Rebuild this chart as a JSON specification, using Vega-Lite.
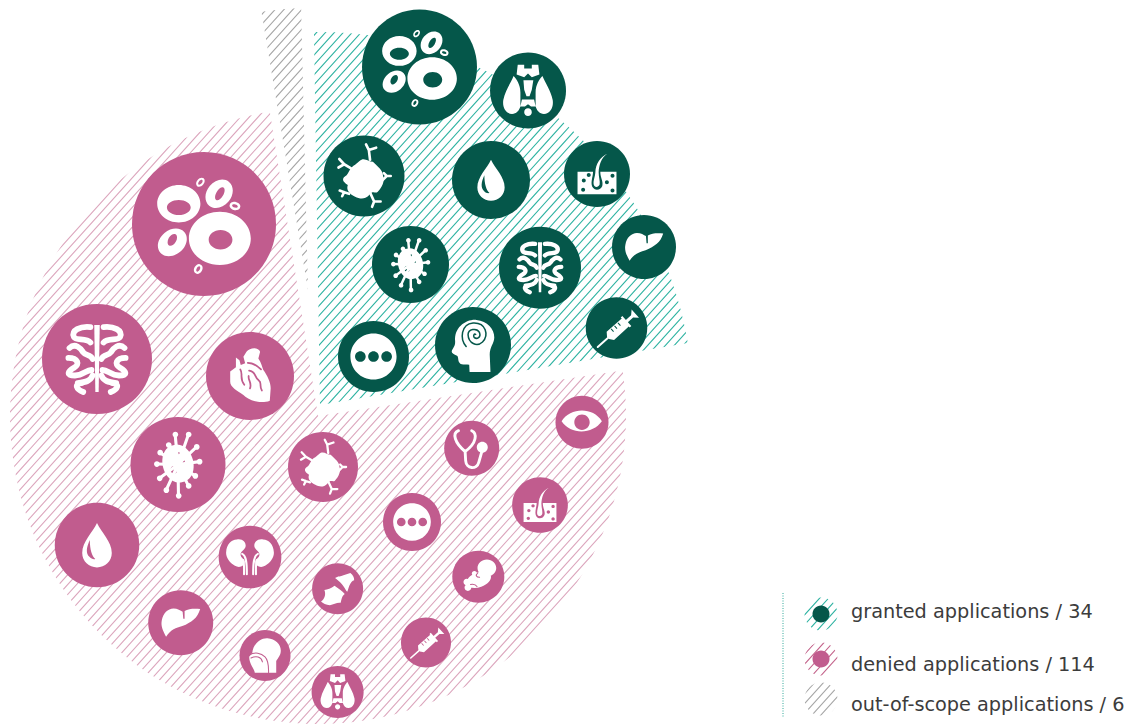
{"$schema":"https://vega.github.io/schema/vega-lite/v6.json","width":1135,"height":725,"autosize":"none","padding":0,"background":"white","config":{"view":{"stroke":null},"legend":{"disable":true}},
"datasets":{
"wedges":[{"group":"granted","x":320,"y":405,"start":-0.93,"end":80.44,"r":373},{"group":"denied","x":318,"y":416,"start":81.5,"end":351,"r":308},{"group":"out-of-scope","x":308,"y":290,"start":-9.5,"end":-1.4,"r":282}],
"keys":[{"group":"granted","x":821,"y":614,"d":33},{"group":"denied","x":821,"y":659,"d":33},{"group":"out-of-scope","x":821,"y":699,"d":33}],
"keydots":[{"group":"granted","x":821,"y":614,"d":17},{"group":"denied","x":821,"y":659,"d":17}],
"labels":[{"label":"granted applications / 34","x":851,"y":618},{"label":"denied applications / 114","x":851,"y":671},{"label":"out-of-scope applications / 6","x":851,"y":711}],
"hatch":[{"x":74,"y":-82,"x2":1069,"y2":815}],
"divider":[{"x":783,"y":593,"y2":717}],
"bubbles":[
{"group":"granted","icon":"blood","x":419.5,"y":67,"d":115},{"group":"granted","icon":"thyroid","x":528,"y":90.5,"d":76},{"group":"granted","icon":"antibody","x":364,"y":176,"d":81},{"group":"granted","icon":"drop","x":491,"y":180,"d":78},{"group":"granted","icon":"skin","x":597,"y":174,"d":66},{"group":"granted","icon":"liver","x":644,"y":247,"d":64},{"group":"granted","icon":"virus","x":410.5,"y":264.5,"d":77},{"group":"granted","icon":"brain","x":540,"y":267.7,"d":82},{"group":"granted","icon":"syringe","x":616.5,"y":328,"d":61.5},{"group":"granted","icon":"head","x":473,"y":345,"d":76},{"group":"granted","icon":"dots","x":373.5,"y":356.5,"d":71},
{"group":"denied","icon":"blood","x":204,"y":224,"d":144},{"group":"denied","icon":"brain","x":97,"y":359,"d":110},{"group":"denied","icon":"heart","x":250,"y":376,"d":88},{"group":"denied","icon":"virus","x":178,"y":464.5,"d":95},{"group":"denied","icon":"antibody","x":323,"y":467,"d":70},{"group":"denied","icon":"drop","x":97,"y":545,"d":84.5},{"group":"denied","icon":"kidney","x":250,"y":557,"d":62.7},{"group":"denied","icon":"joint","x":337.6,"y":588.8,"d":51},{"group":"denied","icon":"liver","x":180.7,"y":622.7,"d":65},{"group":"denied","icon":"throat","x":265,"y":655.5,"d":51},{"group":"denied","icon":"thyroid","x":337.6,"y":692,"d":52},{"group":"denied","icon":"stethoscope","x":471.7,"y":448.3,"d":55},{"group":"denied","icon":"eye","x":582,"y":422.3,"d":53},{"group":"denied","icon":"skin","x":540,"y":505,"d":55.7},{"group":"denied","icon":"dots","x":412,"y":522,"d":58},{"group":"denied","icon":"baby","x":478.3,"y":576.7,"d":52},{"group":"denied","icon":"syringe","x":426,"y":642.5,"d":50}
]},
"encoding":{"x":{"field":"x","type":"quantitative","axis":null,"scale":{"domain":[0,1135],"range":[0,1135]}},"y":{"field":"y","type":"quantitative","axis":null,"scale":{"domain":[0,725],"range":[0,725]}}},
"layer":[
{"data":{"name":"wedges"},"mark":{"type":"arc"},"encoding":{"theta":{"field":"start","type":"quantitative","scale":{"domain":[0,360],"range":[0,6.283185]}},"theta2":{"field":"end"},"radius":{"field":"r","type":"quantitative","scale":{"type":"linear","domain":[0,400],"range":[0,400]}},"fill":{"field":"group","type":"nominal","scale":{"domain":["granted","denied","out-of-scope"],"range":["#2fb3a2","#dca6bd","#a6a6a6"]}}}},
{"data":{"name":"keys"},"mark":{"type":"point","filled":true,"opacity":1,"shape":"M-1 0A1 1 0 1 1 1 0A1 1 0 1 1 -1 0Z"},"encoding":{"size":{"field":"d","type":"quantitative","scale":{"type":"pow","exponent":2,"domain":[0,200],"range":[0,40000]}},"fill":{"field":"group","type":"nominal","scale":{"domain":["granted","denied","out-of-scope"],"range":["#2fb3a2","#c4658c","#a6a6a6"]}}}},
{"data":{"name":"hatch"},"mark":{"type":"rule","stroke":"white","strokeWidth":1400,"strokeDash":[5.5,1.1]},"encoding":{"x2":{"field":"x2"},"y2":{"field":"y2"}}},
{"data":{"name":"bubbles"},"mark":{"type":"point","filled":true,"opacity":1,"shape":"M-1 0A1 1 0 1 1 1 0A1 1 0 1 1 -1 0Z"},"encoding":{"size":{"field":"d","type":"quantitative","scale":{"type":"pow","exponent":2,"domain":[0,200],"range":[0,40000]}},"fill":{"field":"group","type":"nominal","scale":{"domain":["granted","denied"],"range":["#05574a","#c15c8e"]}}}},
{"data":{"name":"keydots"},"mark":{"type":"point","filled":true,"opacity":1,"shape":"M-1 0A1 1 0 1 1 1 0A1 1 0 1 1 -1 0Z"},"encoding":{"size":{"field":"d","type":"quantitative","scale":{"type":"pow","exponent":2,"domain":[0,200],"range":[0,40000]}},"fill":{"field":"group","type":"nominal","scale":{"domain":["granted","denied"],"range":["#05574a","#c15c8e"]}}}},
{"data":{"name":"bubbles"},"mark":{"type":"point","filled":true,"opacity":1,"fill":"white"},"encoding":{"size":{"field":"d","type":"quantitative","scale":{"type":"pow","exponent":2,"domain":[0,200],"range":[0,40000]}},"shape":{"field":"icon","type":"nominal","scale":{"domain":["blood","drop","virus","brain","heart","antibody","dots","liver","kidney","joint","throat","thyroid","syringe","head","skin","eye","stethoscope","baby"],"range":[
"M-.21 .2A.43 .37 0 1 1 .65 .2A.43 .37 0 1 1 -.21 .2ZM.065 .22A.165 .135 0 1 0 .395 .22A.165 .135 0 1 0 .065 .22ZM-.65 -.28A.3 .26 0 1 1 -.05 -.28A.3 .26 0 1 1 -.65 -.28ZM-.515 -.23A.165 .105 0 1 0 -.185 -.23A.165 .105 0 1 0 -.515 -.23ZM.072 -.255A.215 .17 -50 1 1 .348 -.585A.215 .17 -50 1 1 .072 -.255ZM.17 -.333A.1 .05 -60 1 0 .27 -.507A.1 .05 -60 1 0 .17 -.333ZM-.609 .396A.22 .17 -40 1 1 -.271 .114A.22 .17 -40 1 1 -.609 .396ZM-.485 .298A.09 .055 -60 1 0 -.395 .142A.09 .055 -60 1 0 -.485 .298ZM-.095 -.526A.07 .05 -50 1 1 -.005 -.634A.07 .05 -50 1 1 -.095 -.526ZM-.076 -.549A.04 .022 -50 1 0 -.024 -.611A.04 .022 -50 1 0 -.076 -.549ZM.358 -.269A.075 .05 15 1 1 .502 -.231A.075 .05 15 1 1 .358 -.269ZM.391 -.26A.04 .022 15 1 0 .469 -.24A.04 .022 15 1 0 .391 -.26ZM-.115 .685A.07 .05 -60 1 1 -.045 .565A.07 .05 -60 1 1 -.115 .685ZM-.1 .66A.04 .022 -60 1 0 -.06 .59A.04 .022 -60 1 0 -.1 .66Z",
"M0 -.52C.1 -.3 .35 -.08 .35 .19C.35 .39 .19 .53 0 .53C-.19 .53 -.35 .39 -.35 .19C-.35 -.08 -.1 -.3 0 -.52ZM-.17 -.12C-.25 .05 -.27 .2 -.18 .28C-.14 .33 -.07 .35 -.04 .33C-.12 .27 -.17 .1 -.17 -.12Z",
"M-.1 -.406A.4 .3 75 1 1 .1 .366A.4 .3 75 1 1 -.1 -.406ZM-.16 .11a.08 .08 0 1 0 .16 0a.08 .08 0 1 0 -.16 0ZM.055 -.06a.045 .045 0 1 0 .09 0a.045 .045 0 1 0 -.09 0ZM-.015 -.24a.025 .025 0 1 0 .05 0a.025 .025 0 1 0 -.05 0ZM-.115 -.63a.06 .06 0 1 1 .12 0a.06 .06 0 1 1 -.12 0ZM.165 -.63a.06 .06 0 1 1 .12 0a.06 .06 0 1 1 -.12 0ZM.335 -.37a.06 .06 0 1 1 .12 0a.06 .06 0 1 1 -.12 0ZM.395 -.06a.06 .06 0 1 1 .12 0a.06 .06 0 1 1 -.12 0ZM.305 .24a.06 .06 0 1 1 .12 0a.06 .06 0 1 1 -.12 0ZM.165 .45a.06 .06 0 1 1 .12 0a.06 .06 0 1 1 -.12 0ZM-.045 .66a.06 .06 0 1 1 .12 0a.06 .06 0 1 1 -.12 0ZM-.305 .54a.06 .06 0 1 1 .12 0a.06 .06 0 1 1 -.12 0ZM-.445 .29a.06 .06 0 1 1 .12 0a.06 .06 0 1 1 -.12 0ZM-.505 -.01a.06 .06 0 1 1 .12 0a.06 .06 0 1 1 -.12 0ZM-.435 -.25a.06 .06 0 1 1 .12 0a.06 .06 0 1 1 -.12 0ZM-.255 -.41a.06 .06 0 1 1 .12 0a.06 .06 0 1 1 -.12 0Z",
"M-.05 -.62L.05 -.62L.03 .6L-.03 .6Z",
"M-.08 -.55C0 -.66 .2 -.66 .23 -.55L.19 -.4C.26 -.3 .28 -.2 .3 -.14C.4 0 .47 .15 .47 .28L.45 .56C.35 .6 .25 .6 .15 .58C0 .55 -.1 .48 -.15 .43C-.3 .33 -.45 .25 -.45 .13L-.45 -.1L-.32 -.2L-.32 -.42L-.24 -.36L-.21 -.25L-.11 -.29L-.15 -.44Z",
"M-.11 -.37C0 -.48 .11 -.35 .22 -.35C.34 -.23 .47 -.14 .47 0C.52 .11 .45 .28 .34 .39C.28 .45 .22 .34 .13 .47C0 .6 -.11 .56 -.22 .51C-.34 .45 -.45 .36 -.4 .22C-.54 .13 -.56 .06 -.43 -.02C-.36 -.11 -.34 -.22 -.22 -.28Z",
"M-.65 0A.65 .65 0 1 1 .65 0A.65 .65 0 1 1 -.65 0ZM-.52 0a.15 .15 0 1 0 .3 0a.15 .15 0 1 0 -.3 0ZM-.15 0a.15 .15 0 1 0 .3 0a.15 .15 0 1 0 -.3 0ZM.22 0a.15 .15 0 1 0 .3 0a.15 .15 0 1 0 -.3 0Z",
"M-.45 .43C-.55 .25 -.62 .1 -.58 -.08C-.54 -.3 -.4 -.43 -.22 -.44C-.1 -.44 0 -.38 .06 -.34L.08 -.12L.12 -.12L.12 -.36C.25 -.44 .45 -.44 .6 -.42C.55 -.28 .5 -.17 .4 -.1C.3 -.02 .2 .05 .05 .1C-.15 .16 -.3 .2 -.45 .43Z",
"M-.42 -.56C-.2 -.6 -.1 -.42 -.15 -.3C-.2 -.2 -.3 -.18 -.3 -.08C-.3 .04 -.18 .05 -.17 .15C-.16 .3 -.35 .36 -.48 .28C-.66 .18 -.78 0 -.76 -.16C-.75 -.4 -.6 -.55 -.42 -.56ZM.42 -.56C.6 -.55 .75 -.4 .76 -.16C.78 0 .66 .18 .48 .28C.35 .36 .16 .3 .17 .15C.18 .05 .3 .04 .3 -.08C.3 -.18 .2 -.2 .15 -.3C.1 -.42 .2 -.6 .42 -.56Z",
"M-.1 -.42C0 -.5 .15 -.48 .2 -.52C.3 -.55 .4 -.58 .5 -.62C.6 -.55 .65 -.45 .65 -.34C.5 -.3 .45 -.1 .38 .12C.3 .05 .22 -.2 -.1 -.42ZM-.52 .05C-.4 .02 -.25 0 -.12 -.12C.05 0 .2 .1 .28 .2C.15 .3 .15 .45 .12 .55C0 .52 -.15 .6 -.3 .65C-.45 .62 -.58 .58 -.65 .5C-.5 .4 -.45 .2 -.52 .05Z",
"M-.5 -.1C-.45 -.5 -.15 -.7 .1 -.68C.4 -.66 .62 -.45 .62 -.2C.62 0 .5 .1 .44 .22L.44 .68L-.4 .68C-.42 .5 -.62 .35 -.62 .05Z",
"M-.38 -.38C-.3 -.3 -.2 -.15 -.2 .05L-.2 .42C-.25 .55 -.3 .6 -.42 .62C-.58 .6 -.68 .45 -.65 .25C-.6 0 -.45 -.2 -.38 -.38ZM.38 -.38C.45 -.2 .6 0 .65 .25C.68 .45 .58 .6 .42 .62C.3 .6 .25 .55 .2 .42L.2 .05C.2 -.15 .3 -.3 .38 -.38ZM-.27 -.68L-.1 -.68L-.1 -.58L.1 -.58L.1 -.68L.27 -.68L.3 -.42L.1 -.35L0 -.45L-.1 -.35L-.3 -.42ZM-.12 -.27L.14 -.27L.1 -.02L.04 .15L-.04 .15L-.1 -.02ZM-.16 .24L.16 .24L.2 .42L.08 .42L0 .36L-.08 .42L-.2 .42ZM-.1 .57a.1 .1 0 1 1 .2 0a.1 .1 0 1 1 -.2 0Z",
"M-.32 .12L.17 -.31L.4 -.05L-.08 .39ZM-.188 .0425L-.108 .1325L-.082 .1095L-.162 .0195ZM-.077 -.057L.003 .033L.029 .01L-.051 -.08ZM.035 -.157L.115 -.067L.141 -.09L.061 -.18ZM-.308 .284L-.32 .12L-.08 .39L-.242 .358ZM.138 -.342L.19 -.389L.482 -.061L.43 -.014ZM.303 -.262L.4745 -.4145L.5405 -.3405L.369 -.188ZM.4745 -.4145L.492 -.605L.732 -.337L.5405 -.3405Z",
"M-.47 -.1C-.5 -.45 -.2 -.68 .09 -.66C.38 -.64 .56 -.42 .56 -.2C.56 -.05 .44 .05 .44 .25L.46 .71L-.09 .71L-.1 .52C-.2 .5 -.32 .54 -.36 .46C-.4 .4 -.38 .3 -.42 .28C-.5 .25 -.56 .22 -.56 .18C-.56 .1 -.46 .05 -.47 -.1Z",
"M-.59 -.07L.59 -.07L.59 .61L-.59 .61ZM-.12 -.07C-.12 .1 -.22 .28 -.12 .42C-.04 .52 .12 .48 .16 .36C.2 .22 .1 .12 .1 -.07ZM.32 -.62C.12 -.5 .06 -.25 .05 -.05C.05 .1 .1 .22 .08 .32C.04 .42 -.08 .42 -.1 .32C-.12 .2 -.06 .1 -.05 -.05C-.04 -.3 .1 -.52 .32 -.62ZM-.31 .03a.06 .06 0 1 0 .12 0a.06 .06 0 1 0 -.12 0ZM.41 .05a.06 .06 0 1 0 .12 0a.06 .06 0 1 0 -.12 0ZM-.46 .2a.06 .06 0 1 0 .12 0a.06 .06 0 1 0 -.12 0ZM.24 .25a.06 .06 0 1 0 .12 0a.06 .06 0 1 0 -.12 0ZM-.48 .48a.06 .06 0 1 0 .12 0a.06 .06 0 1 0 -.12 0ZM.41 .5a.06 .06 0 1 0 .12 0a.06 .06 0 1 0 -.12 0Z",
"M-.77 -.04C-.45 -.55 .4 -.6 .75 -.04C.4 .45 -.4 .5 -.77 -.04ZM-.29 0a.29 .29 0 1 0 .58 0a.29 .29 0 1 0 -.58 0Z",
"M.185 -.04a.2 .2 0 1 1 .4 0a.2 .2 0 1 1 -.4 0Z",
"M-.03 -.33A.36 .33 0 1 1 .69 -.33A.36 .33 0 1 1 -.03 -.33ZM-.44 .28A.48 .28 -20 1 1 .48 -.05A.48 .28 -20 1 1 -.44 .28ZM-.53 .42a.13 .13 0 1 1 .26 0a.13 .13 0 1 1 -.26 0ZM-.57 .2a.12 .12 0 1 1 .24 0a.12 .12 0 1 1 -.24 0ZM-.25 -.12a.1 .1 0 1 1 .2 0a.1 .1 0 1 1 -.2 0Z"
]}}}},
{"data":{"name":"bubbles"},"transform":[{"filter":{"field":"icon","oneOf":["virus","antibody","kidney","syringe"]}}],"mark":{"type":"point","filled":false,"opacity":1,"stroke":"white","strokeCap":"round","strokeJoin":"round"},"encoding":{"size":{"field":"d","type":"quantitative","scale":{"type":"pow","exponent":2,"domain":[0,200],"range":[0,40000]}},"strokeWidth":{"field":"d","type":"quantitative","scale":{"domain":[0,200],"range":[0,6.5]}},"shape":{"field":"icon","type":"nominal","scale":{"domain":["virus","antibody","kidney","syringe"],"range":[
"M0 0L-.06 -.63M0 0L.22 -.63M0 0L.39 -.37M0 0L.45 -.06M0 0L.36 .24M0 0L.22 .45M0 0L.01 .66M0 0L-.25 .54M0 0L-.39 .29M0 0L-.45 -.01M0 0L-.38 -.25M0 0L-.2 -.41",
"M.15 -.4L.12 -.64L.05 -.78M.12 -.64L.3 -.7M-.32 -.19L-.49 -.29L-.61 -.42M-.49 -.29L-.63 -.21M.44 .12L.56 0L.49 -.07M.56 0L.66 0M-.37 .44L-.49 .4L-.6 .36M-.49 .4L-.54 .5M.15 .41L.25 .63L.2 .76M.25 .63L.41 .63",
"M-.25 -.1C-.12 -.05 -.1 .2 -.1 .55M.25 -.1C.12 -.05 .1 .2 .1 .55M-.22 .1C-.18 .2 -.19 .35 -.19 .55M.22 .1C.18 .2 .19 .35 .19 .55",
"M-.61 .62L-.2 .254"
]}}}},
{"data":{"name":"bubbles"},"transform":[{"filter":{"field":"icon","oneOf":["brain","stethoscope"]}}],"mark":{"type":"point","filled":false,"opacity":1,"stroke":"white","strokeCap":"round","strokeJoin":"round"},"encoding":{"size":{"field":"d","type":"quantitative","scale":{"type":"pow","exponent":2,"domain":[0,200],"range":[0,40000]}},"strokeWidth":{"field":"d","type":"quantitative","scale":{"domain":[0,200],"range":[0,10.5]}},"shape":{"field":"icon","type":"nominal","scale":{"domain":["brain","stethoscope"],"range":[
"M-.12 -.58C-.3 -.6 -.48 -.52 -.42 -.4C-.38 -.32 -.2 -.4 -.12 -.3M-.5 -.2C-.4 -.3 -.3 -.2 -.25 -.12C-.2 -.05 -.12 -.1 -.08 0M-.52 -.02C-.35 -.02 -.3 .1 -.42 .16C-.52 .22 -.58 .3 -.4 .3C-.25 .3 -.2 .2 -.1 .2M-.35 .44C-.2 .42 -.12 .4 -.08 .3M-.25 .6C-.38 .55 -.42 .45 -.28 .44M.12 -.58C.3 -.6 .48 -.52 .42 -.4C.38 -.32 .2 -.4 .12 -.3M.5 -.2C.4 -.3 .3 -.2 .25 -.12C.2 -.05 .12 -.1 .08 0M.52 -.02C.35 -.02 .3 .1 .42 .16C.52 .22 .58 .3 .4 .3C.25 .3 .2 .2 .1 .2M.35 .44C.2 .42 .12 .4 .08 .3M.25 .6C.38 .55 .42 .45 .28 .44",
"M-.48 -.64C-.72 -.55 -.62 -.2 -.24 .12M0 -.64C.2 -.55 .2 -.2 -.24 .12M-.24 .1L-.22 .45C-.2 .75 .18 .8 .26 .5L.36 .15"
]}}}},
{"data":{"name":"bubbles"},"transform":[{"filter":{"field":"icon","oneOf":["head","heart","baby","throat"]}}],"mark":{"type":"point","filled":false,"opacity":1,"strokeCap":"round","strokeJoin":"round"},"encoding":{"size":{"field":"d","type":"quantitative","scale":{"type":"pow","exponent":2,"domain":[0,200],"range":[0,40000]}},"strokeWidth":{"field":"d","type":"quantitative","scale":{"domain":[0,200],"range":[0,4]}},"stroke":{"field":"group","type":"nominal","scale":{"domain":["granted","denied"],"range":["#05574a","#c15c8e"]}},"shape":{"field":"icon","type":"nominal","scale":{"domain":["head","heart","baby","throat"],"range":[
"M-.18 .04C-.35 -.15 -.32 -.55 0 -.58C.35 -.6 .42 -.25 .25 -.08C.1 .06 -.12 -.05 -.13 -.27C-.13 -.42 .1 -.46 .17 -.33C.22 -.2 .1 -.14 .03 -.2C0 -.25 .03 -.3 .07 -.28",
"M-.22 -.15C-.15 -.05 -.25 .05 -.13 .2M-.05 -.3C.1 -.3 .2 -.2 .25 -.15M-.02 -.12C.15 -.1 .1 .05 .2 .1C.28 .15 .2 .22 .27 .33M-.03 0C-.05 .1 .05 .15 0 .28",
"M-.02 -.15C-.12 -.05 -.08 .02 .05 .02M-.3 .3C-.2 .28 -.1 .3 -.05 .38",
"M-.62 -.02C-.4 -.15 -.15 -.1 0 .05C.1 .15 .15 .3 .14 .68M-.55 .1C-.35 0 -.15 .05 -.1 .25"
]}}}},
{"data":{"name":"divider"},"mark":{"type":"rule","stroke":"#2fa898","strokeWidth":1,"strokeDash":[1,1.5]},"encoding":{"y2":{"field":"y2"}}},
{"data":{"name":"labels"},"mark":{"type":"text","align":"left","baseline":"alphabetic","font":"DejaVu Sans","fontSize":19.3,"fill":"#3c3c3c"},"encoding":{"text":{"field":"label","type":"nominal"}}}
],
"resolve":{"scale":{"fill":"independent","stroke":"independent","shape":"independent","strokeWidth":"independent"}}}
